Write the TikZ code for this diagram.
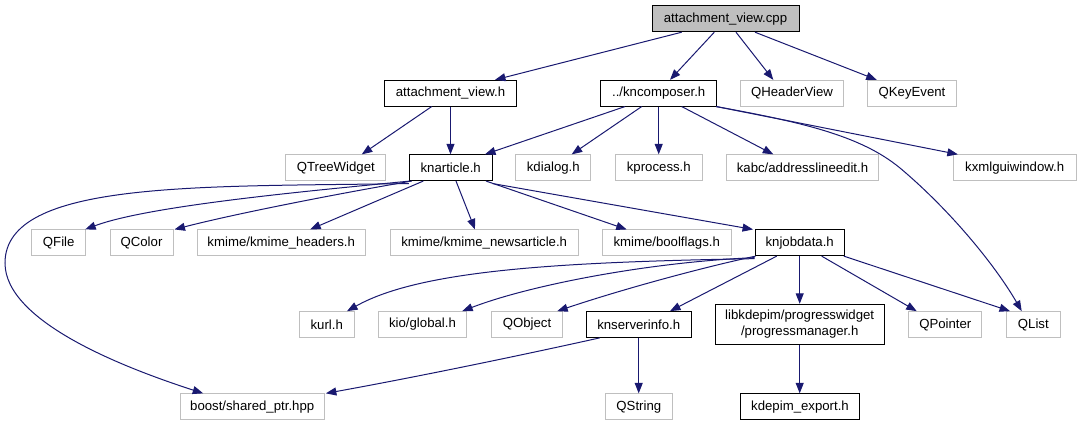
\documentclass[tikz,border=0pt]{standalone}
\usepackage{fontspec}
\setmainfont{Liberation Sans}
\usetikzlibrary{arrows.meta}
\definecolor{edgeblue}{RGB}{25,25,112}
\definecolor{greyline}{RGB}{191,191,191}
\definecolor{rootfill}{RGB}{191,191,191}
\tikzset{
  base/.style={rectangle, inner sep=0pt, minimum height=25.7pt, font=\fontsize{13.2}{15.5}\selectfont, align=center},
  doc/.style={base, draw=black, line width=1pt, fill=white},
  ext/.style={base, draw=greyline, line width=1pt, fill=white},
  root/.style={base, draw=black, line width=1pt, fill=rootfill},
  dep/.style={draw=edgeblue, line width=1pt, -{Triangle[length=10.5pt,width=8pt]}},
}
\begin{document}
\begin{tikzpicture}[x=1pt,y=-1pt]
\useasboundingbox (0,0) rectangle (1081,425);
% row 0
\node[root, minimum width=147pt, minimum height=26pt] (cpp) at (725.5,18.7) {attachment\_view.cpp};
% row 1
\node[doc, minimum width=132.4pt] (avh) at (450.5,93.2) {attachment\_view.h};
\node[doc, minimum width=116pt] (knc) at (658.7,93.2) {../kncomposer.h};
\node[ext, minimum width=102.7pt] (qhv) at (792,93.2) {QHeaderView};
\node[ext, minimum width=89.3pt] (qke) at (912,93.2) {QKeyEvent};
% row 2
\node[ext, minimum width=99.7pt] (qtw) at (335.8,167.7) {QTreeWidget};
\node[doc, minimum width=82.7pt] (kna) at (450.7,167.7) {knarticle.h};
\node[ext, minimum width=75.3pt] (kdl) at (553.3,167.7) {kdialog.h};
\node[ext, minimum width=87pt] (kpr) at (658.8,167.7) {kprocess.h};
\node[ext, minimum width=151.7pt] (kabc) at (802.5,167.7) {kabc/addresslineedit.h};
\node[ext, minimum width=122.7pt] (kxml) at (1014.7,167.7) {kxmlguiwindow.h};
% row 3
\node[ext, minimum width=54pt] (qfile) at (58.7,242.8) {QFile};
\node[ext, minimum width=63pt] (qcolor) at (141.5,242.8) {QColor};
\node[ext, minimum width=167.7pt] (kmh) at (281.2,242.8) {kmime/kmime\_headers.h};
\node[ext, minimum width=188.3pt] (kmn) at (484.2,242.8) {kmime/kmime\_newsarticle.h};
\node[ext, minimum width=128.7pt] (kbf) at (666.7,242.8) {kmime/boolflags.h};
\node[doc, minimum width=89.3pt] (kjd) at (799.7,242.8) {knjobdata.h};
% row 4
\node[ext, minimum width=54.7pt] (kurl) at (326.7,324.5) {kurl.h};
\node[ext, minimum width=88.4pt] (kio) at (422.5,324.5) {kio/global.h};
\node[ext, minimum width=70.6pt] (qobj) at (527,324.5) {QObject};
\node[doc, minimum width=104.7pt] (ksi) at (638.7,324.5) {knserverinfo.h};
\node[doc, minimum width=169.3pt, minimum height=40pt] (pm) at (799.7,324.3) {libkdepim/progresswidget\\/progressmanager.h};
\node[ext, minimum width=73.3pt] (qptr) at (945.3,324.5) {QPointer};
\node[ext, minimum width=54pt] (qlist) at (1033.3,324.5) {QList};
% row 5
\node[ext, minimum width=144.3pt] (boost) at (252.2,406.7) {boost/shared\_ptr.hpp};
\node[ext, minimum width=67pt] (qstr) at (638.8,406.7) {QString};
\node[doc, minimum width=118.7pt] (kde) at (800,406.7) {kdepim\_export.h};

% edges from attachment_view.cpp
\draw[dep] ([xshift=-43.8pt]cpp.south) -- ([xshift=44.5pt]avh.north);
\draw[dep] ([xshift=-11.2pt]cpp.south) -- ([xshift=11.3pt]knc.north);
\draw[dep] ([xshift=10.5pt]cpp.south) -- ([xshift=-18.7pt]qhv.north);
\draw[dep] ([xshift=29.5pt]cpp.south) -- ([xshift=-35.3pt]qke.north);
% edges from attachment_view.h
\draw[dep] ([xshift=-18.8pt]avh.south) -- ([xshift=26pt]qtw.north);
\draw[dep] (avh.south) -- (avh.south |- kna.north);
% edges from kncomposer.h
\draw[dep] ([xshift=-33.7pt]knc.south) -- ([xshift=34.3pt]kna.north);
\draw[dep] ([xshift=-17pt]knc.south) -- ([xshift=18.4pt]kdl.north);
\draw[dep] (knc.south) -- (knc.south |- kpr.north);
\draw[dep] ([xshift=23pt]knc.south) -- ([xshift=-29.2pt]kabc.north);
\draw[dep] ([xshift=-1pt]knc.south east) -- ([xshift=5pt]kxml.north west);
\draw[dep] ([xshift=-1pt]knc.south east) .. controls (800,122) and (860,135) .. (900,168)
  .. controls (950,210) and (995,265) .. ([xshift=-11.6pt]qlist.north);
% edges from knarticle.h
\draw[dep] ([yshift=-2.5pt]kna.south west) .. controls (200,187) and (5,180) .. (5,263)
  .. controls (5,322) and (125,368) .. ([xshift=-49pt]boost.north);
\draw[dep] ([xshift=1pt]kna.south west) .. controls (320,190) and (150,205) .. ([xshift=-1pt]qfile.north east);
\draw[dep] ([xshift=3pt]kna.south west) .. controls (330,195) and (230,215) .. ([xshift=1pt]qcolor.north east);
\draw[dep] ([xshift=-27.4pt]kna.south) -- ([xshift=29pt]kmh.north);
\draw[dep] ([xshift=5.3pt]kna.south) -- ([xshift=-9.2pt]kmn.north);
\draw[dep] ([xshift=35.3pt]kna.south) -- ([xshift=-40pt]kbf.north);
\draw[dep] ([yshift=-2.5pt]kna.south east) -- ([xshift=-1.5pt]kjd.north west);
% edges from knjobdata.h
\draw[dep] ([yshift=-2.5pt]kjd.south west) .. controls (560,262) and (420,270) .. ([xshift=-7.5pt]kurl.north east);
\draw[dep] ([yshift=-1.5pt]kjd.south west) .. controls (650,262) and (530,285) .. ([xshift=-5pt]kio.north east);
\draw[dep] ([xshift=1pt]kjd.south west) .. controls (700,268) and (620,290) .. ([xshift=-5.6pt]qobj.north east);
\draw[dep] ([xshift=-23pt]kjd.south) -- ([xshift=31.3pt]ksi.north);
\draw[dep] (kjd.south) -- (kjd.south |- pm.north);
\draw[dep] ([xshift=22pt]kjd.south) -- ([xshift=-28.6pt]qptr.north);
\draw[dep] ([xshift=-1pt]kjd.south east) -- ([xshift=-23.3pt]qlist.north);
% edges from knserverinfo.h
\draw[dep] ([xshift=14pt]ksi.south west) .. controls (500,360) and (400,380) .. ([xshift=1pt]boost.north east);
\draw[dep] (ksi.south) -- (ksi.south |- qstr.north);
% edge from progressmanager.h
\draw[dep] (pm.south) -- (pm.south |- kde.north);
\end{tikzpicture}
\end{document}
